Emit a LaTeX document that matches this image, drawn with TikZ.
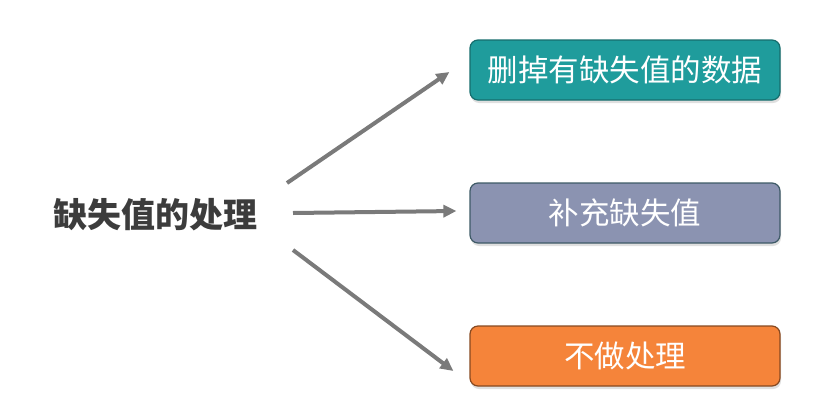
\documentclass[tikz,border=0pt]{standalone}
\usepackage{fontspec}
\newfontfamily\cjk{Noto Sans CJK SC}
\usetikzlibrary{arrows.meta,calc,shadows}
\definecolor{delcol}{HTML}{1F9C9C}
\definecolor{fillcol}{HTML}{8B93B1}
\definecolor{nonecol}{HTML}{F5843A}
\definecolor{arrcol}{HTML}{7A7A7A}
\definecolor{rootcol}{HTML}{3C3C3C}
\begin{document}
\begin{tikzpicture}[x=1pt,y=-1pt,
	choice/.style={rounded corners=8pt,minimum width=310pt,minimum height=60pt,line width=1.2pt,
		text=white,font=\cjk\fontsize{30.5}{32}\selectfont,drop shadow={shadow xshift=1pt,shadow yshift=-3pt,opacity=0.25}},
	branch/.style={draw=arrcol,line width=4pt,-{Triangle[length=13pt,width=12pt]}}]
	\useasboundingbox (0,0) rectangle (818,410);
	\node[text=rootcol] (root) at (155,215) {\cjk\bfseries\fontsize{34}{36}\selectfont 缺失值的处理};
	\node[choice,fill=delcol,draw=delcol!70!black] (del) at (625,70) {删掉有缺失值的数据};
	\node[choice,fill=fillcol,draw=fillcol!50!black!80!delcol] (fill) at (625,213) {补充缺失值};
	\node[choice,fill=nonecol,draw=nonecol!55!black] (none) at (625,356) {不做处理};
	\coordinate (s1) at (287,183);
	\coordinate (s2) at (293,213);
	\coordinate (s3) at (293,250);
	\draw[branch] (s1) -- ($(del.west)+(-20,2)$);
	\draw[branch] (s2) -- ($(fill.west)+(-13,-2)$);
	\draw[branch] (s3) -- ($(none.west)+(-16,15)$);
\end{tikzpicture}
\end{document}
